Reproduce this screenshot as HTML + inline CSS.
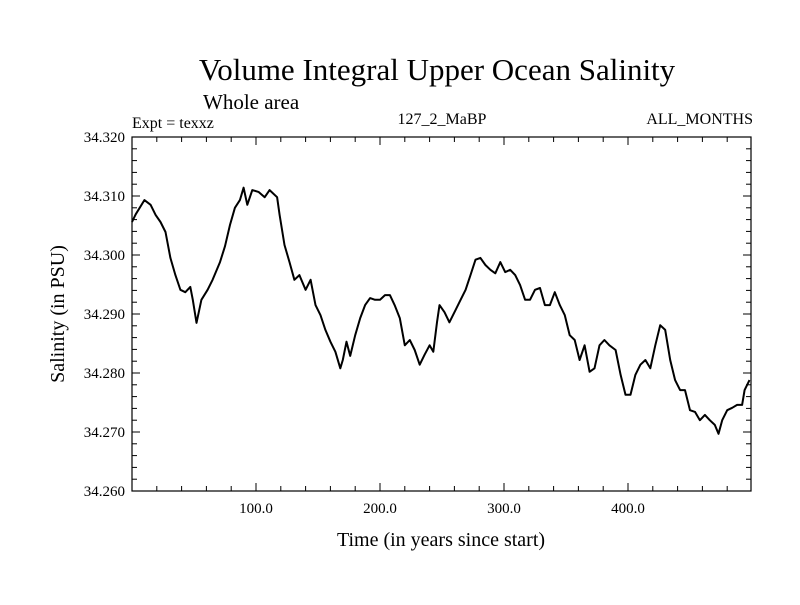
<!DOCTYPE html>
<html><head><meta charset="utf-8"><style>
body{margin:0;background:#fff}
svg text{font-family:"Liberation Serif",serif;fill:#000}
</style></head><body>
<svg id="chart" width="800" height="600" viewBox="0 0 800 600" xmlns="http://www.w3.org/2000/svg">
<rect width="800" height="600" fill="#fff"/>
<text x="437" y="80" font-size="31" text-anchor="middle">Volume Integral Upper Ocean Salinity</text>
<text x="203" y="109" font-size="21">Whole area</text>
<text x="132" y="128" font-size="16">Expt = texxz</text>
<text x="442" y="124" font-size="16" text-anchor="middle">127_2_MaBP</text>
<text x="753" y="124" font-size="16" text-anchor="end">ALL_MONTHS</text>
<text x="441" y="546" font-size="20" text-anchor="middle">Time (in years since start)</text>
<text transform="translate(64,314) rotate(-90)" font-size="20" text-anchor="middle">Salinity (in PSU)</text>
<g id="axes"></g>
<g id="series"></g>
</svg>
<script>
const xTickLabels=["100.0","200.0","300.0","400.0"];
const xTickValues=[100,200,300,400];
const yTickValues=[34.26,34.27,34.28,34.29,34.30,34.31,34.32];
const yTickLabels=["34.260","34.270","34.280","34.290","34.300","34.310","34.320"];
const years=[0,3,10,15,19,23,27,31,35,39,43,47,49,52,56,61,65,71,75,79,83,87,90,93,97,102,107,111,117,119,123,127,131,135,140,144,148,152,156,160,164,168,170,173,176,180,184,188,192,196,200,204,208,212,216,220,224,228,232,236,240,243,246,248,252,256,261,265,269,273,277,281,285,289,293,297,301,305,309,313,317,321,325,329,333,337,341,345,349,353,357,361,365,369,373,377,381,385,390,394,398,402,406,410,414,418,422,426,430,434,438,442,446,450,454,458,462,466,470,473,476,480,484,488,492,494,498];
const salinity=[34.3056,34.3069,34.3093,34.3085,34.3068,34.3056,34.3039,34.2995,34.2966,34.2941,34.2937,34.2946,34.2924,34.2885,34.2924,34.2941,34.2958,34.2988,34.3015,34.3051,34.3080,34.3093,34.3114,34.3085,34.3110,34.3107,34.3098,34.3110,34.3098,34.3068,34.3017,34.2988,34.2958,34.2966,34.2941,34.2958,34.2915,34.2898,34.2873,34.2853,34.2836,34.2808,34.2822,34.2853,34.2829,34.2864,34.2893,34.2915,34.2927,34.2924,34.2924,34.2932,34.2932,34.2914,34.2893,34.2847,34.2856,34.2839,34.2814,34.2831,34.2847,34.2836,34.2886,34.2915,34.2903,34.2886,34.2907,34.2924,34.2941,34.2966,34.2992,34.2995,34.2983,34.2975,34.2969,34.2988,34.2971,34.2975,34.2966,34.2949,34.2924,34.2924,34.2941,34.2944,34.2915,34.2915,34.2937,34.2915,34.2898,34.2864,34.2856,34.2822,34.2847,34.2802,34.2808,34.2847,34.2856,34.2847,34.2839,34.2797,34.2763,34.2763,34.2797,34.2814,34.2822,34.2808,34.2847,34.2881,34.2873,34.2822,34.2788,34.2771,34.2771,34.2737,34.2734,34.2720,34.2729,34.2720,34.2712,34.2697,34.2720,34.2737,34.2741,34.2746,34.2746,34.2771,34.2788];
const L=132,R=751,T=137,B=491,X0=0,X1=499.2,Y0=34.26,Y1=34.32;
const sx=v=>L+(v-X0)/(X1-X0)*(R-L);
const sy=v=>B-(v-Y0)/(Y1-Y0)*(B-T);
const NS="http://www.w3.org/2000/svg";
const axes=document.getElementById('axes'),series=document.getElementById('series');
function mk(tag,attrs,parent){const e=document.createElementNS(NS,tag);for(const k in attrs)e.setAttribute(k,attrs[k]);parent.appendChild(e);return e;}
const frame=mk('rect',{x:L,y:T,width:R-L,height:B-T,fill:'none',stroke:'#000','stroke-width':1.2},axes);


for(let v=20;v<X1;v+=20){const big=v%100===0,len=big?8:5;
 const t1=mk('line',{x1:sx(v),x2:sx(v),y1:B,y2:B-len,stroke:'#000'},axes);
 
 
 const t2=mk('line',{x1:sx(v),x2:sx(v),y1:T,y2:T+len,stroke:'#000'},axes);
 
 }
for(let i=1;i<30;i++){const v=Y0+i*0.002,big=i%5===0,len=big?8:5;
 const t1=mk('line',{x1:L,x2:L+len,y1:sy(v),y2:sy(v),stroke:'#000'},axes);
 
 
 const t2=mk('line',{x1:R,x2:R-len,y1:sy(v),y2:sy(v),stroke:'#000'},axes);
 
 }
xTickValues.forEach((v,i)=>{const t=mk('text',{x:sx(v),y:B+22,'font-size':15,'text-anchor':'middle'},axes);t.textContent=xTickLabels[i];
 
 });
yTickValues.forEach((v,i)=>{const t=mk('text',{x:L-7,y:sy(v)+5,'font-size':15,'text-anchor':'end'},axes);t.textContent=yTickLabels[i];
 
 });
const d=years.map((y,i)=>(i?'L':'M')+sx(y).toFixed(1)+','+sy(salinity[i]).toFixed(1)).join('');
const p=mk('path',{d:d,fill:'none',stroke:'#000','stroke-width':2,'stroke-linejoin':'round'},series);


</script>
</body></html>
